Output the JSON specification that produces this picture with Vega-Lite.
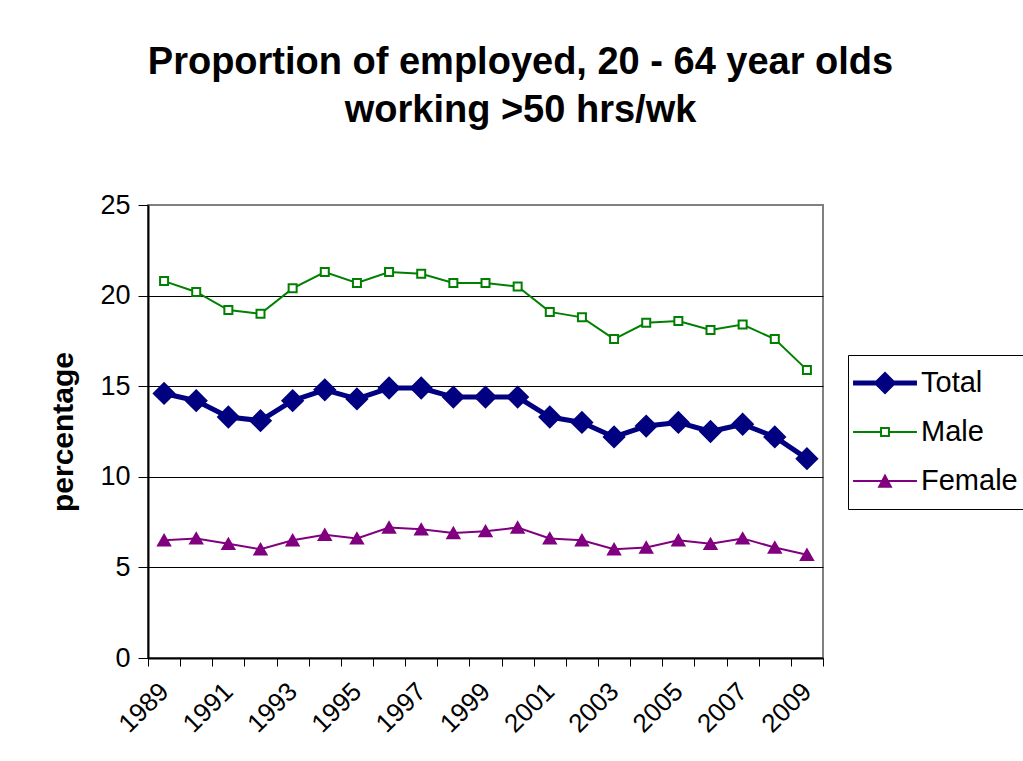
{
  "$schema": "https://vega.github.io/schema/vega-lite/v6.json",
  "width": 675,
  "height": 453,
  "autosize": "none",
  "padding": {"left": 148, "top": 205, "right": 200, "bottom": 103},
  "background": "white",
  "title": {
    "text": ["Proportion of employed, 20 - 64 year olds", "working >50 hrs/wk"],
    "font": "Liberation Sans",
    "fontSize": 38,
    "fontWeight": "bold",
    "color": "black",
    "anchor": "middle",
    "dx": 35,
    "offset": 61,
    "lineHeight": 48
  },
  "config": {
    "view": {"stroke": "#808080", "strokeWidth": 2},
    "font": "Liberation Sans"
  },
  "data": {
    "values": [
      {"year": "1989", "series": "Total", "value": 14.6},
      {"year": "1990", "series": "Total", "value": 14.2},
      {"year": "1991", "series": "Total", "value": 13.3},
      {"year": "1992", "series": "Total", "value": 13.1},
      {"year": "1993", "series": "Total", "value": 14.2},
      {"year": "1994", "series": "Total", "value": 14.8},
      {"year": "1995", "series": "Total", "value": 14.3},
      {"year": "1996", "series": "Total", "value": 14.9},
      {"year": "1997", "series": "Total", "value": 14.9},
      {"year": "1998", "series": "Total", "value": 14.4},
      {"year": "1999", "series": "Total", "value": 14.4},
      {"year": "2000", "series": "Total", "value": 14.4},
      {"year": "2001", "series": "Total", "value": 13.3},
      {"year": "2002", "series": "Total", "value": 13.0},
      {"year": "2003", "series": "Total", "value": 12.2},
      {"year": "2004", "series": "Total", "value": 12.8},
      {"year": "2005", "series": "Total", "value": 13.0},
      {"year": "2006", "series": "Total", "value": 12.5},
      {"year": "2007", "series": "Total", "value": 12.9},
      {"year": "2008", "series": "Total", "value": 12.2},
      {"year": "2009", "series": "Total", "value": 11.0},
      {"year": "1989", "series": "Male", "value": 20.8},
      {"year": "1990", "series": "Male", "value": 20.2},
      {"year": "1991", "series": "Male", "value": 19.2},
      {"year": "1992", "series": "Male", "value": 19.0},
      {"year": "1993", "series": "Male", "value": 20.4},
      {"year": "1994", "series": "Male", "value": 21.3},
      {"year": "1995", "series": "Male", "value": 20.7},
      {"year": "1996", "series": "Male", "value": 21.3},
      {"year": "1997", "series": "Male", "value": 21.2},
      {"year": "1998", "series": "Male", "value": 20.7},
      {"year": "1999", "series": "Male", "value": 20.7},
      {"year": "2000", "series": "Male", "value": 20.5},
      {"year": "2001", "series": "Male", "value": 19.1},
      {"year": "2002", "series": "Male", "value": 18.8},
      {"year": "2003", "series": "Male", "value": 17.6},
      {"year": "2004", "series": "Male", "value": 18.5},
      {"year": "2005", "series": "Male", "value": 18.6},
      {"year": "2006", "series": "Male", "value": 18.1},
      {"year": "2007", "series": "Male", "value": 18.4},
      {"year": "2008", "series": "Male", "value": 17.6},
      {"year": "2009", "series": "Male", "value": 15.9},
      {"year": "1989", "series": "Female", "value": 6.5},
      {"year": "1990", "series": "Female", "value": 6.6},
      {"year": "1991", "series": "Female", "value": 6.3},
      {"year": "1992", "series": "Female", "value": 6.0},
      {"year": "1993", "series": "Female", "value": 6.5},
      {"year": "1994", "series": "Female", "value": 6.8},
      {"year": "1995", "series": "Female", "value": 6.6},
      {"year": "1996", "series": "Female", "value": 7.2},
      {"year": "1997", "series": "Female", "value": 7.1},
      {"year": "1998", "series": "Female", "value": 6.9},
      {"year": "1999", "series": "Female", "value": 7.0},
      {"year": "2000", "series": "Female", "value": 7.2},
      {"year": "2001", "series": "Female", "value": 6.6},
      {"year": "2002", "series": "Female", "value": 6.5},
      {"year": "2003", "series": "Female", "value": 6.0},
      {"year": "2004", "series": "Female", "value": 6.1},
      {"year": "2005", "series": "Female", "value": 6.5},
      {"year": "2006", "series": "Female", "value": 6.3},
      {"year": "2007", "series": "Female", "value": 6.6},
      {"year": "2008", "series": "Female", "value": 6.1},
      {"year": "2009", "series": "Female", "value": 5.7}
    ]
  },
  "encoding": {
    "x": {
      "field": "year",
      "type": "ordinal",
      "scale": {"type": "band", "paddingInner": 0, "paddingOuter": 0},
      "axis": {
        "title": null,
        "labelAngle": -45,
        "labelAlign": "right",
        "labelBaseline": "middle",
        "labelFontSize": 26,
        "labelColor": "black",
        "labelPadding": 21,
        "labelExpr": "parseInt(datum.value) % 2 == 1 ? datum.value : ''",
        "tickBand": "extent",
        "tickSize": 8,
        "tickColor": "black",
        "domainColor": "black",
        "domainWidth": 2,
        "grid": false
      }
    },
    "y": {
      "field": "value",
      "type": "quantitative",
      "scale": {"domain": [0, 25], "nice": false},
      "axis": {
        "values": [0, 5, 10, 15, 20, 25],
        "title": "percentage",
        "titleFontSize": 30,
        "titleFontWeight": "bold",
        "titleColor": "black",
        "titlePadding": 21,
        "labelFontSize": 27,
        "labelColor": "black",
        "labelPadding": 8,
        "tickSize": 10,
        "tickColor": "black",
        "domainColor": "black",
        "domainWidth": 2,
        "grid": true,
        "gridColor": {"condition": {"test": "datum.value == 25", "value": "#808080"}, "value": "black"},
        "gridWidth": 1,
        "gridOpacity": 1
      }
    }
  },
  "layer": [
    {
      "transform": [{"filter": "datum.series == 'Female'"}],
      "mark": {"type": "line", "color": "#800080", "strokeWidth": 2},
      "encoding": {}
    },
    {
      "transform": [{"filter": "datum.series == 'Male'"}],
      "mark": {"type": "line", "color": "#008000", "strokeWidth": 2},
      "encoding": {}
    },
    {
      "transform": [{"filter": "datum.series == 'Total'"}],
      "mark": {"type": "line", "color": "#000080", "strokeWidth": 5, "strokeJoin": "round", "strokeCap": "round"},
      "encoding": {}
    },
    {
      "transform": [{"filter": "datum.series == 'Female'"}],
      "mark": {"type": "point", "shape": "triangle-up", "size": 144, "filled": true, "color": "#800080", "stroke": "#800080", "strokeWidth": 2, "opacity": 1}
    },
    {
      "transform": [{"filter": "datum.series == 'Male'"}],
      "mark": {"type": "point", "shape": "square", "size": 64, "fill": "white", "stroke": "#008000", "strokeWidth": 2, "opacity": 1}
    },
    {
      "transform": [{"filter": "datum.series == 'Total'"}],
      "mark": {"type": "point", "shape": "diamond", "size": 420, "filled": true, "color": "#000080", "stroke": "#000080", "strokeWidth": 2, "opacity": 1}
    },
    {
      "transform": [{"filter": "false"}],
      "mark": {"type": "point", "filled": true, "opacity": 1, "size": 900},
      "encoding": {
        "color": {
          "field": "series",
          "type": "nominal",
          "scale": {"domain": ["Total", "Male", "Female"], "range": ["#000080", "#008000", "#800080"]},
          "legend": {
            "title": null,
            "orient": "none",
            "legendX": 700,
            "legendY": 150,
            "padding": 13,
            "strokeColor": "black",
            "fillColor": "white",
            "symbolSize": 900,
            "symbolOpacity": 1,
            "symbolStrokeWidth": 0,
            "rowPadding": 19,
            "labelFontSize": 29,
            "labelColor": "black",
            "labelOffset": 30,
            "labelLimit": 200
          }
        },
        "shape": {
          "field": "series",
          "type": "nominal",
          "scale": {
            "domain": ["Total", "Male", "Female"],
            "range": [
              "M-1.53,-0.17H2.73V0.17H-1.53Z M0.6,-0.77L1.37,0L0.6,0.77L-0.17,0Z",
              "M-1.53,-0.07H0.27V0.07H-1.53Z M0.93,-0.07H2.73V0.07H0.93Z M0.27,-0.33H0.93V0.33H0.27Z M0.4,-0.2V0.2H0.8V-0.2Z",
              "M-1.53,-0.07H2.73V0.07H-1.53Z M0.6,-0.5L1.1,0.45H0.1Z"
            ]
          }
        }
      }
    }
  ]
}
